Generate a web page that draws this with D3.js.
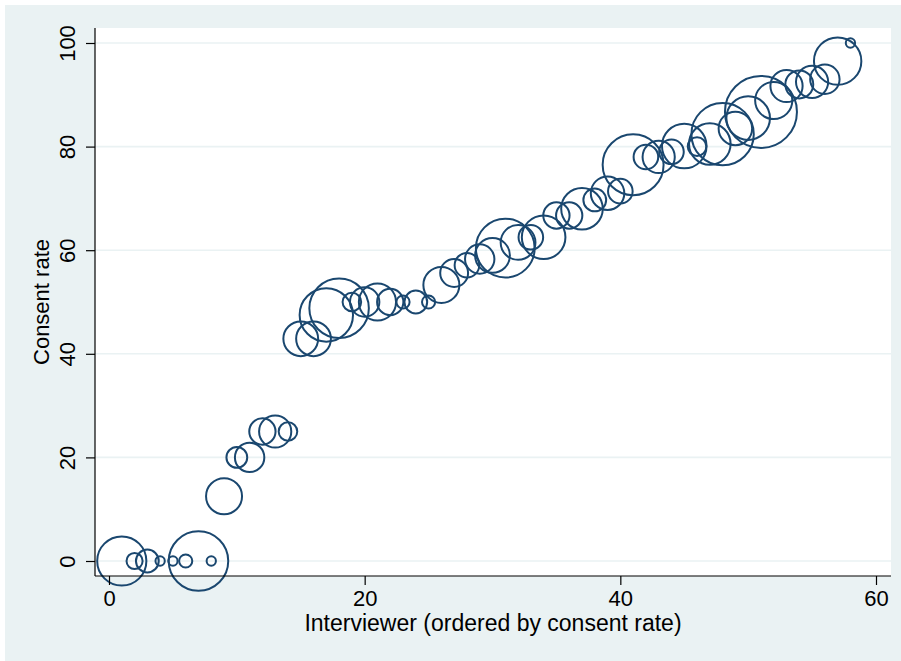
<!DOCTYPE html>
<html>
<head>
<meta charset="utf-8">
<script src="https://cdn.jsdelivr.net/npm/d3@7"></script>
<style>
  body { margin: 0; background: #ffffff; }
  svg { display: block; font-family: "Liberation Sans", Arial, sans-serif; }
</style>
</head>
<body>
<svg id="chart"></svg>
<script>
// interviewer rank (ordered by consent rate)
const interviewer = [1, 2, 3, 4, 5, 6, 7, 8, 9, 10,
  11, 12, 13, 14, 15, 16, 17, 18, 19, 20,
  21, 22, 23, 24, 25, 26, 27, 28, 29, 30,
  31, 32, 33, 34, 35, 36, 37, 38, 39, 40,
  41, 42, 43, 44, 45, 46, 47, 48, 49, 50,
  51, 52, 53, 54, 55, 56, 57, 58];

// consent rate (%)
const consentRate = [0, 0, 0, 0, 0, 0, 0, 0, 12.5, 20,
  20, 25, 25, 25, 42.9, 42.9, 47.5, 48.8, 50, 50,
  50, 50, 50, 50, 50, 53.3, 55.6, 57.1, 58.3, 59,
  60.4, 61.5, 62.5, 62.5, 66.7, 66.7, 68, 69.7, 71, 71.4,
  76.5, 78, 78, 79, 80.1, 80, 80.5, 82.4, 83.5, 85.5,
  86.7, 88.9, 91.7, 92, 92.5, 93, 96.5, 100];

// number of respondents (marker weight)
const respondents = [28, 3, 6, 1, 1, 2, 41, 1, 15, 5,
  10, 8, 12, 4, 14, 14, 33, 41, 4, 10,
  16, 8, 2, 6, 2, 15, 9, 7, 10, 14,
  40, 14, 7, 22, 8, 8, 20, 6, 13, 7,
  43, 7, 12, 7, 23, 4, 20, 45, 13, 22,
  60, 16, 12, 9, 12, 10, 26, 1];

const xTicks = [0, 20, 40, 60];
const yTicks = [0, 20, 40, 60, 80, 100];

const width = 901, height = 661;
const plot = {left: 95, right: 891, top: 28, bottom: 576};
const bg = "#eaf2f3";
const navy = "#1a476f";

const svg = d3.select("#chart")
    .attr("width", width)
    .attr("height", height);

// graph region
svg.append("rect")
    .attr("x", 5).attr("y", 5)
    .attr("width", width - 5).attr("height", height - 5)
    .attr("fill", bg);

// plot region
svg.append("rect")
    .attr("x", plot.left).attr("y", plot.top)
    .attr("width", plot.right - plot.left)
    .attr("height", plot.bottom - plot.top)
    .attr("fill", "#ffffff");

const x = d3.scaleLinear().domain([0, 60]).range([109, 876]);
const y = d3.scaleLinear().domain([0, 100]).range([561, 43]);
const r = d3.scaleSqrt().domain([0, 60]).range([0, 36]);

// gridlines
svg.append("g")
    .selectAll("line")
    .data(yTicks)
    .enter().append("line")
    .attr("x1", plot.left).attr("x2", plot.right)
    .attr("y1", d => y(d)).attr("y2", d => y(d))
    .attr("stroke", bg)
    .attr("stroke-width", 1.6);

// markers
const data = interviewer.map((d, i) => ({x: d, y: consentRate[i], n: respondents[i]}));

svg.append("g")
    .selectAll("circle")
    .data(data)
    .enter().append("circle")
    .attr("cx", d => x(d.x))
    .attr("cy", d => y(d.y))
    .attr("r", d => r(d.n))
    .attr("fill", "none")
    .attr("stroke", navy)
    .attr("stroke-width", 2);

// x axis
const xAxis = svg.append("g")
    .attr("transform", `translate(0,${plot.bottom})`)
    .call(d3.axisBottom(x).tickValues(xTicks).tickSize(9).tickPadding(4).tickSizeOuter(0));
xAxis.select(".domain").attr("d", `M${plot.left},0H${plot.right}`);

// y axis
const yAxis = svg.append("g")
    .attr("transform", `translate(${plot.left},0)`)
    .call(d3.axisLeft(y).tickValues(yTicks).tickSize(9).tickSizeOuter(0));
yAxis.select(".domain").attr("d", `M0,${plot.top}V${plot.bottom}`);

[xAxis, yAxis].forEach(a => {
    a.select(".domain").attr("stroke", "#000").attr("stroke-width", 1.2);
    a.selectAll(".tick line").attr("stroke", "#000").attr("stroke-width", 1.2);
    a.selectAll("text")
        .attr("font-family", "'Liberation Sans', Arial, sans-serif")
        .attr("font-size", 22)
        .attr("fill", "#000");
});

xAxis.selectAll("text").attr("dy", null).attr("y", 30);

yAxis.selectAll(".tick text")
    .attr("x", null).attr("dy", null)
    .attr("text-anchor", "middle")
    .attr("transform", "translate(-20,0) rotate(-90)");

// axis titles
svg.append("text")
    .attr("x", (plot.left + plot.right) / 2)
    .attr("y", 631)
    .attr("text-anchor", "middle")
    .attr("font-size", 23)
    .text("Interviewer (ordered by consent rate)");

svg.append("text")
    .attr("transform", `translate(49,${(plot.top + plot.bottom) / 2}) rotate(-90)`)
    .attr("text-anchor", "middle")
    .attr("font-size", 22)
    .text("Consent rate");
</script>
</body>
</html>
